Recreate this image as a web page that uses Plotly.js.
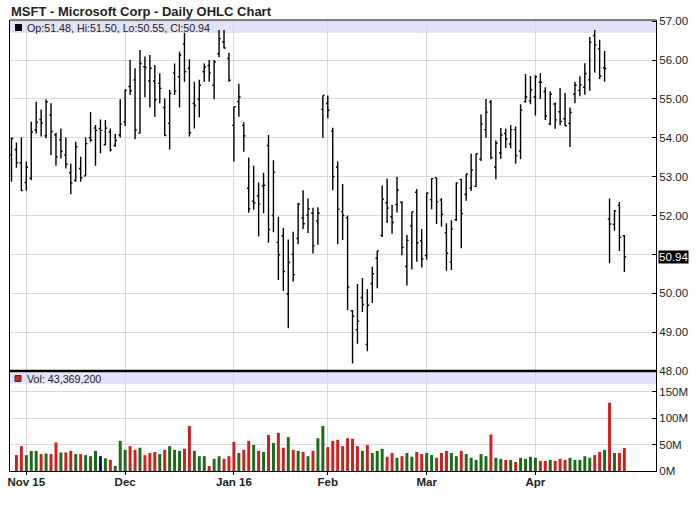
<!DOCTYPE html>
<html>
<head>
<meta charset="utf-8">
<script src="https://cdn.plot.ly/plotly-3.0.1.min.js"></script>
<style>
html,body{margin:0;padding:0;background:#fff;}
#chart{width:700px;height:512px;}
</style>
</head>
<body>
<div id="chart"></div>
<script>
const dates = [
"2015-10-28","2015-10-29","2015-10-30",
"2015-11-02","2015-11-03","2015-11-04","2015-11-05","2015-11-06",
"2015-11-09","2015-11-10","2015-11-11","2015-11-12","2015-11-13",
"2015-11-16","2015-11-17","2015-11-18","2015-11-19","2015-11-20",
"2015-11-23","2015-11-24","2015-11-25","2015-11-27","2015-11-30",
"2015-12-01","2015-12-02","2015-12-03","2015-12-04",
"2015-12-07","2015-12-08","2015-12-09","2015-12-10","2015-12-11",
"2015-12-14","2015-12-15","2015-12-16","2015-12-17","2015-12-18",
"2015-12-21","2015-12-22","2015-12-23","2015-12-24",
"2015-12-28","2015-12-29","2015-12-30","2015-12-31",
"2016-01-04","2016-01-05","2016-01-06","2016-01-07","2016-01-08",
"2016-01-11","2016-01-12","2016-01-13","2016-01-14","2016-01-15",
"2016-01-19","2016-01-20","2016-01-21","2016-01-22",
"2016-01-25","2016-01-26","2016-01-27","2016-01-28","2016-01-29",
"2016-02-01","2016-02-02","2016-02-03","2016-02-04","2016-02-05",
"2016-02-08","2016-02-09","2016-02-10","2016-02-11","2016-02-12",
"2016-02-16","2016-02-17","2016-02-18","2016-02-19",
"2016-02-22","2016-02-23","2016-02-24","2016-02-25","2016-02-26",
"2016-02-29","2016-03-01","2016-03-02","2016-03-03","2016-03-04",
"2016-03-07","2016-03-08","2016-03-09","2016-03-10","2016-03-11",
"2016-03-14","2016-03-15","2016-03-16","2016-03-17","2016-03-18",
"2016-03-21","2016-03-22","2016-03-23","2016-03-24",
"2016-03-28","2016-03-29","2016-03-30","2016-03-31","2016-04-01",
"2016-04-04","2016-04-05","2016-04-06","2016-04-07","2016-04-08",
"2016-04-11","2016-04-12","2016-04-13","2016-04-14","2016-04-15",
"2016-04-18","2016-04-19","2016-04-20","2016-04-21","2016-04-22",
"2016-04-25","2016-04-26","2016-04-27"
];

const openP = [
53.56,53.70,53.35,
52.85,52.96,54.20,54.47,54.05,
54.59,54.07,53.95,53.56,53.10,
52.90,53.21,53.02,54.00,54.25,
54.24,53.82,54.15,53.80,54.07,
54.41,55.32,55.49,54.12,
55.83,55.46,55.46,55.40,54.78,
54.37,55.67,55.57,56.41,55.79,
54.88,54.99,55.70,55.86,
55.35,56.16,56.47,56.04,
54.32,54.93,54.32,52.70,52.37,
52.51,52.76,53.80,52.00,51.31,
51.48,49.98,51.00,51.41,
51.94,52.01,52.06,51.86,54.73,
54.88,54.17,53.25,52.10,51.94,
49.55,49.06,49.89,48.68,50.25,
50.90,51.49,52.33,51.97,
52.28,52.34,50.69,51.73,52.60,
51.35,50.97,52.41,52.97,52.40,
51.56,50.80,51.89,52.93,52.54,
52.71,52.75,53.45,54.21,54.92,
53.25,53.61,54.11,53.84,
54.21,53.66,54.93,54.95,55.05,
55.43,55.19,54.36,54.87,54.67,
54.49,54.37,55.12,55.22,55.30,
55.49,56.63,56.29,55.80,51.91,
51.77,52.26,51.48
];
const highP = [
54.01,53.88,54.01,
53.39,54.41,54.93,54.73,54.99,
54.89,54.13,54.24,54.01,53.33,
53.90,53.51,54.01,54.66,54.33,
54.47,54.46,54.24,54.10,54.99,
55.25,56.00,55.79,56.26,
56.09,56.13,55.87,55.66,55.01,
55.23,55.91,56.21,56.70,56.02,
55.44,55.49,55.91,56.00,
56.00,56.77,56.77,56.19,
54.80,55.39,54.40,53.49,53.28,
52.85,53.10,54.07,53.42,51.97,
51.68,51.38,51.58,52.33,
52.65,52.44,52.20,52.21,55.09,
55.09,54.26,53.39,52.81,52.00,
49.57,50.24,50.39,50.11,50.68,
51.09,52.77,52.95,52.28,
53.00,52.37,51.50,52.10,52.68,
51.65,52.59,52.96,52.97,52.45,
51.80,51.88,52.85,52.94,53.07,
53.59,53.59,54.60,55.00,54.97,
53.93,54.25,54.24,54.33,
54.29,54.86,55.64,55.59,55.61,
55.66,55.30,55.20,54.91,55.28,
55.15,54.78,55.44,55.58,55.92,
56.59,56.77,56.52,56.23,52.44,
52.14,52.35,51.50
];
const lowP = [
52.87,53.23,52.64,
52.64,52.91,54.11,54.03,53.99,
53.56,53.28,53.47,53.21,52.55,
52.87,52.87,53.02,53.90,53.28,
53.60,53.81,53.65,53.77,54.01,
54.30,55.10,53.96,54.11,
55.04,54.78,54.54,54.89,54.05,
53.70,55.10,54.78,55.44,54.03,
54.24,54.53,55.44,55.44,
54.99,56.07,56.30,55.44,
53.39,54.54,53.64,52.07,52.15,
51.46,52.06,51.30,51.57,50.34,
50.06,49.10,50.30,51.26,
51.65,51.55,51.02,51.25,54.00,
54.50,52.65,51.26,51.37,49.56,
48.19,48.70,49.52,48.51,49.75,
50.13,51.45,51.81,51.53,
52.08,50.98,50.20,50.61,50.81,
50.66,50.86,52.16,51.78,51.71,
50.58,50.60,51.86,51.16,52.38,
52.63,52.74,53.40,54.00,53.45,
52.93,53.46,53.74,53.73,
53.33,53.45,54.90,54.86,54.57,
55.00,54.46,54.32,54.23,54.32,
54.30,53.76,54.89,55.07,55.11,
55.21,55.68,55.51,55.44,50.77,
51.61,51.09,50.55
];
const closeP = [
53.98,53.36,52.64,
53.24,54.15,54.40,54.38,54.92,
54.16,53.51,53.65,53.32,52.84,
53.77,52.97,53.85,53.94,54.19,
54.19,54.25,53.69,53.93,54.35,
55.22,55.21,54.20,55.91,
55.81,55.79,54.98,55.27,54.06,
55.14,55.20,56.13,55.70,54.13,
54.83,55.35,55.82,55.67,
55.95,56.55,56.31,55.48,
54.80,55.05,54.05,52.17,52.33,
52.30,52.78,51.64,53.11,50.99,
50.56,50.79,50.48,52.29,
51.79,52.17,51.22,52.06,55.09,
54.71,53.00,52.16,52.00,50.16,
49.41,49.28,49.71,49.69,50.50,
51.09,52.42,52.19,51.82,
52.65,51.18,51.36,52.10,51.30,
50.88,52.58,52.95,52.35,52.03,
51.03,51.65,52.84,52.05,53.07,
53.17,53.59,54.35,54.66,53.49,
53.86,54.07,53.97,54.21,
53.54,54.71,55.05,55.23,55.57,
55.43,54.56,55.12,54.46,54.42,
54.31,54.65,55.35,55.36,55.65,
56.46,56.39,55.59,55.78,51.78,
52.11,51.44,50.94
];
// volume in millions of shares (first day not drawn)
const volumeM = [
null,30,47,
30,38,38,32,33,
32,54,35,35,38,
32,32,30,28,38,
28,24,21,9.5,57,
40,47,40,44,
30,34,36,32,40,
47,40,38,42,85,
38,28,28,9.5,
23,28,23,28,
55,34,40,57,49,
38,36,68,53,72,
44,64,40,38,
36,28,38,62,85,
45,57,59,47,62,
61,47,38,49,34,
38,42,27,34,
25,28,34,27,36,
32,34,30,25,34,
38,34,28,38,32,
25,21,32,28,69,
25,23,21,21,
17,25,23,27,25,
19,19,21,19,23,
21,25,21,21,28,
25,30,36,40,129,
34,34,43.3692
];
const lastVolume = 43369200;

const monthTickDates = ["2015-11-02","2015-12-01","2016-01-04","2016-02-01","2016-03-01","2016-04-01"];
const monthTickLabels = ["Nov 15","Dec","Jan 16","Feb","Mar","Apr"];
const priceTicks = [48,49,50,51,52,53,54,55,56,57];
const volTickVals = [0,50,100,150];
const volTickLabels = ["0M","50M","100M","150M"];

const RED = "#d01f1f", GREEN = "#1b6b1b", NAVY = "#14146e";
const volColors = closeP.map((c,i)=> i===0 ? RED : (c>closeP[i-1] ? GREEN : (c<closeP[i-1] ? RED : NAVY)));
const volValues = volumeM.map(v => v===null ? null : v*1e6);

const n = closeP.length - 1;
const fmt = v => v.toFixed(2);
const priceLegend = "Op:" + fmt(openP[n]) + ", Hi:" + fmt(highP[n]) + ", Lo:" + fmt(lowP[n]) + ", Cl:" + fmt(closeP[n]);
const volLegend = "Vol: " + lastVolume.toLocaleString("en-US");
// the last-close marker box covers the nearest price tick label
const priceTickText = priceTicks.map(v => Math.abs(v - closeP[n]) < 0.3 ? "" : fmt(v));

const FONT = "Liberation Sans, Arial, sans-serif";
const GRID = "#d9d9d9";
const BAND = "#e2e2fa";
const split = 100/451;

const traces = [
  {
    type: "ohlc", x: dates, open: openP, high: highP, low: lowP, close: closeP,
    xaxis: "x", yaxis: "y",
    increasing: {line: {color: "#000", width: 1.4}},
    decreasing: {line: {color: "#000", width: 1.4}},
    tickwidth: 0.35, hoverinfo: "skip", showlegend: false
  },
  {
    type: "bar", x: dates, y: volValues, xaxis: "x", yaxis: "y2",
    marker: {color: volColors, line: {width: 0}}, width: 0.6,
    hoverinfo: "skip", showlegend: false
  }
];

const layout = {
  width: 700, height: 512,
  margin: {l: 10, r: 44, t: 20, b: 41},
  paper_bgcolor: "#fff", plot_bgcolor: "#fff",
  font: {family: FONT, size: 11, color: "#222"},
  title: {
    text: "MSFT - Microsoft Corp - Daily OHLC Chart",
    font: {family: FONT, size: 13, color: "#222", weight: "bold"},
    xref: "container", yref: "container", x: 11/700, xanchor: "left",
    y: 1 - 11/512, yanchor: "middle"
  },
  showlegend: false,
  xaxis: {
    type: "category", anchor: "y2", range: [-0.3, 130.4],
    rangeslider: {visible: false},
    tickmode: "array", tickvals: monthTickDates, ticktext: monthTickLabels,
    tickfont: {family: FONT, size: 11.5, color: "#222", weight: "bold"},
    ticks: "outside", ticklen: 3, tickcolor: "#000", ticklabelstandoff: -3,
    showgrid: true, gridcolor: GRID, gridwidth: 1,
    showline: true, linecolor: "#000", linewidth: 1,
    zeroline: false, fixedrange: true
  },
  yaxis: {
    domain: [split, 1], anchor: "x", side: "right",
    range: [48, 57.03], tickmode: "array", tickvals: priceTicks, ticktext: priceTickText,
    ticks: "inside", ticklen: 4, tickcolor: "#000",
    tickfont: {family: FONT, size: 11.5, color: "#222"},
    showgrid: true, gridcolor: GRID, gridwidth: 1,
    showline: true, linecolor: "#000", linewidth: 1, mirror: true,
    zeroline: false, fixedrange: true
  },
  yaxis2: {
    domain: [0, split], anchor: "x", side: "right",
    range: [0, 189e6], tickmode: "array",
    tickvals: volTickVals.map(v => v*1e6), ticktext: volTickLabels,
    ticks: "inside", ticklen: 4, tickcolor: "#000",
    tickfont: {family: FONT, size: 11.5, color: "#222"},
    showgrid: true, gridcolor: GRID, gridwidth: 1,
    showline: true, linecolor: "#000", linewidth: 1, mirror: true,
    zeroline: false, fixedrange: true
  },
  shapes: [
    {type: "rect", layer: "below", xref: "paper", x0: 0, x1: 1,
     yref: "paper", ysizemode: "pixel", yanchor: 1, y0: -2, y1: -13,
     fillcolor: BAND, line: {width: 0}},
    {type: "rect", layer: "below", xref: "paper", x0: 0, x1: 1,
     yref: "paper", ysizemode: "pixel", yanchor: split, y0: -1.5, y1: -13,
     fillcolor: BAND, line: {width: 0}},
    {type: "rect", layer: "above", xref: "paper", xsizemode: "pixel", xanchor: 0, x0: 5, x1: 12,
     yref: "paper", ysizemode: "pixel", yanchor: 1, y0: -4, y1: -11,
     fillcolor: "#000", line: {width: 0}},
    {type: "rect", layer: "above", xref: "paper", xsizemode: "pixel", xanchor: 0, x0: 5, x1: 11,
     yref: "paper", ysizemode: "pixel", yanchor: split, y0: -4.5, y1: -10.5,
     fillcolor: RED, line: {width: 1, color: "#333"}},
    {type: "line", layer: "above", xref: "paper", x0: 0, x1: 1, yref: "paper", y0: 1, y1: 1,
     line: {color: "#000", width: 1}},
    {type: "line", layer: "above", xref: "paper", x0: 0, x1: 1, yref: "paper", y0: split, y1: split,
     line: {color: "#000", width: 2.5}}
  ],
  annotations: [
    {text: priceLegend, xref: "paper", yref: "paper", x: 0, y: 1, xanchor: "left", yanchor: "middle",
     xshift: 15, yshift: -8, showarrow: false, font: {family: FONT, size: 10.7, color: "#222"}},
    {text: volLegend, xref: "paper", yref: "paper", x: 0, y: split, xanchor: "left", yanchor: "middle",
     xshift: 15, yshift: -7.5, showarrow: false, font: {family: FONT, size: 10.7, color: "#222"}},
    {text: fmt(closeP[n]), xref: "paper", yref: "y", x: 1, y: closeP[n], xanchor: "left", yanchor: "middle",
     xshift: 2, showarrow: false, bgcolor: "#000", borderpad: 0,
     font: {family: FONT, size: 11.5, color: "#fff"}}
  ]
};

Plotly.newPlot("chart", traces, layout, {staticPlot: true, displayModeBar: false});
</script>
</body>
</html>
